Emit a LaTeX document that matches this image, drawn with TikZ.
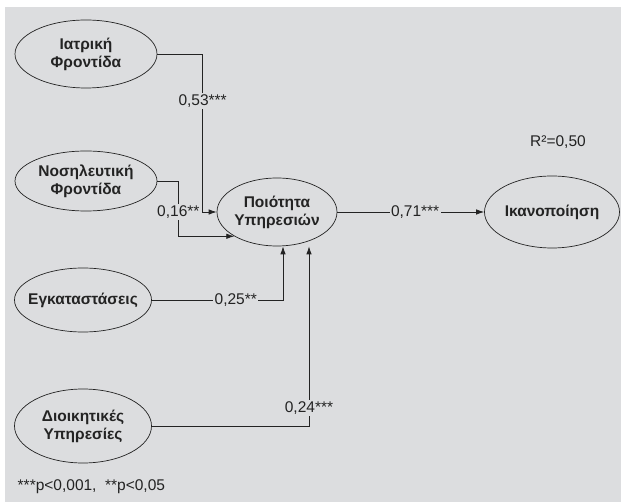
\documentclass[tikz,border=0pt]{standalone}
\usepackage{fontspec}
\setmainfont{Liberation Sans}
\usetikzlibrary{shapes.geometric,arrows.meta}
\definecolor{panel}{RGB}{220,221,223}
\definecolor{ink}{RGB}{35,35,35}

\begin{document}
\begin{tikzpicture}[x=1pt,y=-1pt,
    latent/.style={ellipse,draw=ink,line width=0.7pt,inner xsep=-20pt,inner ysep=0pt,align=center,
        font=\fontsize{15.5}{18}\selectfont\bfseries,text=ink},
    link/.style={draw=ink,line width=0.8pt},
    coef/.style={fill=panel,inner sep=1.5pt,font=\fontsize{15.5}{18}\selectfont,text=ink},
    >={Latex[length=8pt,width=5.5pt]}]
    \useasboundingbox (0,0) rectangle (621,502);
    \fill[white] (0,0) rectangle (621,502);
    \fill[panel] (5,7) rectangle (621,502);
    % constructs
    \node[latent,minimum width=142pt,minimum height=68pt] (iatr) at (86,54) {Ιατρική\\Φροντίδα};
    \node[latent,minimum width=142pt,minimum height=60pt] (nosil) at (86,181) {Νοσηλευτική\\Φροντίδα};
    \node[latent,minimum width=137pt,minimum height=64pt] (egk) at (83,300) {Εγκαταστάσεις};
    \node[latent,minimum width=137pt,minimum height=74pt] (dioik) at (83,426) {Διοικητικές\\Υπηρεσίες};
    \node[latent,minimum width=120pt,minimum height=68pt] (poi) at (277,212) {Ποιότητα\\Υπηρεσιών};
    \node[latent,minimum width=135pt,minimum height=72pt] (ikan) at (552,212) {Ικανοποίηση};
    % paths
    \draw[link,->] (iatr.east) -| ([xshift=-14pt]poi.west) node[coef,pos=0.65] {0,53***} -- (poi.west);
    \draw[link,->] (nosil.east) -- ++(21,0) |- (poi.south west) node[coef,pos=0.28] {0,16**};
    \draw[link,->] (egk.east) -| ([xshift=6pt]poi.south) node[coef,pos=0.32] {0,25**};
    \draw[link,->] (dioik.east) -| ([xshift=32pt]poi.south) node[coef,pos=0.55] {0,24***};
    \draw[link,->] (poi) -- (ikan) node[coef,pos=0.53] {0,71***};
    \node[coef] (rsq) at (558,142) {R²=0,50};
    \node[coef,anchor=west] (note) at (16,487) {***p<0,001,\ \ **p<0,05};
\end{tikzpicture}
\end{document}
